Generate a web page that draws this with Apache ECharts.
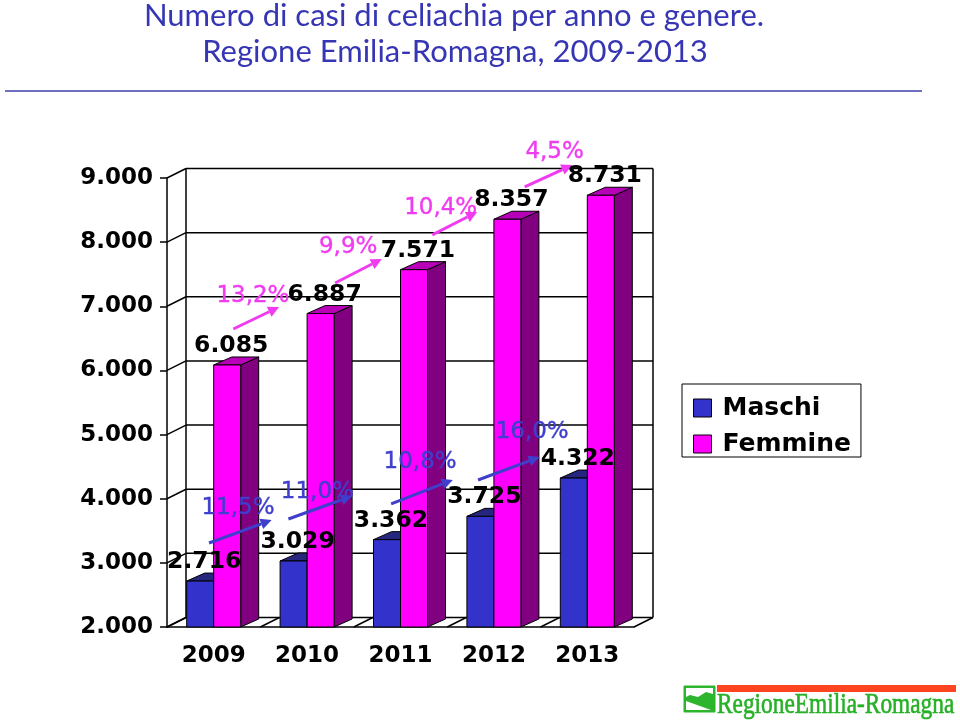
<!DOCTYPE html>
<html>
<head>
<meta charset="utf-8">
<script src="https://cdn.jsdelivr.net/npm/echarts@6/dist/echarts.min.js"></script>
<style>html,body{margin:0;padding:0;background:#fff}#chart{width:960px;height:724px}</style>
</head>
<body>
<div id="chart"></div>
<script>
var years = ['2009', '2010', '2011', '2012', '2013'];
var maschi = [2716, 3029, 3362, 3725, 4322];
var femmine = [6085, 6887, 7571, 8357, 8731];
var yTicks = [2000, 3000, 4000, 5000, 6000, 7000, 8000, 9000];
var yTickLabels = ['2.000', '3.000', '4.000', '5.000', '6.000', '7.000', '8.000', '9.000'];
var growthMaschi = ['11,5%', '11,0%', '10,8%', '16,0%'];
var growthFemmine = ['13,2%', '9,9%', '10,4%', '4,5%'];

// arrow placement in axis units: [tailPos, tailVal, headPos, headVal, labelPos, labelVal]
var arrowsFemmine = [
    [0.21, 6646, 0.70, 6989, 0.42, 7161],
    [1.30, 7363, 1.80, 7737, 1.44, 7924],
    [2.34, 8112, 2.82, 8470, 2.43, 8533],
    [3.33, 8860, 3.84, 9203, 3.65, 9406]
];
var arrowsMaschi = [
    [-0.05, 3310, 0.62, 3668, 0.26, 3855],
    [0.80, 3684, 1.48, 4042, 1.11, 4105],
    [1.90, 3918, 2.56, 4292, 2.21, 4572],
    [2.83, 4292, 3.49, 4650, 3.41, 5040]
];

var DX = 18, DY = -8;     // bar depth
var WX = 19, WY = -9.5;   // wall depth
var BAR_W = 27;
var FONT = '"DejaVu Sans", sans-serif';

function fmt(v) {
    var s = String(v);
    return s.slice(0, s.length - 3) + '.' + s.slice(-3);
}

function box(x0, x1, yTop, yBot, front, side, top) {
    var st = function (c) { return {fill: c, stroke: '#000', lineWidth: 1}; };
    return [
        {type: 'polygon', shape: {points: [[x1, yBot], [x1 + DX, yBot + DY], [x1 + DX, yTop + DY], [x1, yTop]]}, style: st(side)},
        {type: 'polygon', shape: {points: [[x0, yTop], [x1, yTop], [x1 + DX, yTop + DY], [x0 + DX, yTop + DY]]}, style: st(top)},
        {type: 'rect', shape: {x: x0, y: yTop, width: x1 - x0, height: yBot - yTop}, style: st(front)}
    ];
}

function barRenderer(offset, colors) {
    return function (params, api) {
        var i = api.value(0), v = api.value(1);
        var top = api.coord([i, v]);
        var base = api.coord([i, 2000]);
        var x0 = top[0] + offset, x1 = x0 + BAR_W;
        var children = box(x0, x1, top[1], base[1], colors[0], colors[1], colors[2]);
        children.push({
            type: 'text', z2: 50,
            style: {text: fmt(v), x: (x0 + x1) / 2 + 4, y: top[1] - 7, align: 'center', verticalAlign: 'bottom',
                font: 'bold 23.5px ' + FONT, fill: '#000'}
        });
        return {type: 'group', children: children};
    };
}

function wallRenderer(params, api) {
    var cs = params.coordSys;
    var left = cs.x, right = cs.x + cs.width, bottom = cs.y + cs.height;
    var st = {stroke: '#000', lineWidth: 1.5};
    var lines = [];
    yTicks.forEach(function (t) {
        var y = api.coord([0, t])[1];
        lines.push({type: 'line', shape: {x1: left, y1: y, x2: left + WX, y2: y + WY}, style: st});
        lines.push({type: 'line', shape: {x1: left + WX, y1: y + WY, x2: right + WX, y2: y + WY}, style: st});
    });
    for (var k = 0; k <= years.length; k++) {
        var x = left + k * cs.width / years.length;
        lines.push({type: 'line', shape: {x1: x, y1: bottom, x2: x + WX, y2: bottom + WY}, style: st});
    }
    var yTop = api.coord([0, yTicks[yTicks.length - 1]])[1];
    lines.push({type: 'line', shape: {x1: left + WX, y1: yTop + WY, x2: left + WX, y2: bottom + WY}, style: st});
    lines.push({type: 'line', shape: {x1: right + WX, y1: yTop + WY, x2: right + WX, y2: bottom + WY}, style: st});
    return {type: 'group', children: lines};
}

function arrowRenderer(arrows, labels, color) {
    return function (params, api) {
        var a = arrows[params.dataIndex];
        var c0 = api.coord([0, 2000]);
        var band = api.size([1, 0])[0];
        function pt(pos, val) { return [c0[0] + pos * band, api.coord([0, val])[1]]; }
        var p0 = pt(a[0], a[1]), p1 = pt(a[2], a[3]), pl = pt(a[4], a[5]);
        var ang = Math.atan2(p1[1] - p0[1], p1[0] - p0[0]);
        var L = 11, W = 5.5;
        var bx = p1[0] - L * Math.cos(ang), by = p1[1] - L * Math.sin(ang);
        var head = [[p1[0], p1[1]],
            [bx + W * Math.sin(ang), by - W * Math.cos(ang)],
            [bx - W * Math.sin(ang), by + W * Math.cos(ang)]];
        return {type: 'group', children: [
            {type: 'line', z2: 40, shape: {x1: p0[0], y1: p0[1], x2: bx, y2: by}, style: {stroke: color, lineWidth: 3}},
            {type: 'polygon', z2: 40, shape: {points: head}, style: {fill: color}},
            {type: 'text', z2: 40, style: {text: labels[params.dataIndex], x: pl[0], y: pl[1], align: 'center',
                verticalAlign: 'middle', font: '23px ' + FONT, fill: color, stroke: color, lineWidth: 0.4}}
        ]};
    };
}

var myChart = echarts.init(document.getElementById('chart'));
var option = {
    backgroundColor: '#fff',
    animation: false,
    grid: {left: 167, right: 326, top: 178, bottom: 97},
    legend: {
        data: ['Maschi', 'Femmine'],
        orient: 'vertical',
        left: 682, top: 384,
        padding: [11, 10, 0, 11],
        itemGap: 10,
        itemWidth: 18, itemHeight: 18,
        icon: 'rect',
        borderColor: '#000', borderWidth: 1,
        itemStyle: {borderColor: '#000', borderWidth: 1},
        textStyle: {fontFamily: FONT, fontWeight: 'bold', fontSize: 25, color: '#000', lineHeight: 26, padding: [0, 0, 0, 6]}
    },
    xAxis: {
        type: 'category',
        data: years,
        axisLine: {lineStyle: {color: '#000', width: 1.5}},
        axisTick: {length: 9, lineStyle: {color: '#000', width: 1.5}},
        axisLabel: {fontFamily: FONT, fontWeight: 'bold', fontSize: 23, color: '#000', margin: 18},
        splitLine: {show: false}
    },
    yAxis: {
        type: 'value',
        min: 2000, max: 9000, interval: 1000,
        axisLine: {show: true, lineStyle: {color: '#000', width: 1.5}},
        axisTick: {show: true, length: 7, lineStyle: {color: '#000', width: 1.5}},
        axisLabel: {
            fontFamily: FONT, fontWeight: 'bold', fontSize: 23, color: '#000', margin: 14,
            formatter: function (v) { return yTickLabels[yTicks.indexOf(v)]; }
        },
        splitLine: {show: false}
    },
    graphic: [
        {type: 'text', style: {text: 'Numero di casi di celiachia per anno e genere.', x: 454, y: 16,
            align: 'center', verticalAlign: 'middle', font: '31px Lato', fill: '#3636b4'}},
        {type: 'text', style: {text: 'Regione Emilia-Romagna, 2009-2013', x: 455, y: 52,
            align: 'center', verticalAlign: 'middle', font: '31px Lato', fill: '#3636b4'}},
        {type: 'line', shape: {x1: 5, y1: 91, x2: 922, y2: 91}, style: {stroke: '#3f3fae', lineWidth: 1.5}},
        // logo
        {type: 'rect', shape: {x: 684, y: 686, width: 31, height: 26}, style: {fill: '#2db52d', stroke: '#2db52d', lineWidth: 1}},
        {type: 'polygon', shape: {points: [[686, 688], [713, 688], [713, 694], [706, 692], [698, 697], [690, 695], [686, 697]]}, style: {fill: '#fff'}},
        {type: 'polygon', shape: {points: [[686, 701], [686, 710], [711, 710]]}, style: {fill: '#fff'}},
        {type: 'rect', shape: {x: 717, y: 685, width: 239, height: 7}, style: {fill: '#ff4422'}},
        {type: 'text', x: 717, y: 705, scaleX: 0.805,
            style: {text: 'RegioneEmilia-Romagna', x: 0, y: 0, align: 'left', verticalAlign: 'middle',
                font: '29px "Liberation Serif"', fill: '#26b026', stroke: '#26b026', lineWidth: 0.6}}
    ],
    series: [
        {
            type: 'custom', silent: true, z: 1,
            renderItem: wallRenderer,
            data: [[0, 2000]]
        },
        {
            name: 'Maschi', type: 'custom',
            itemStyle: {color: '#3333cc'},
            renderItem: barRenderer(-BAR_W, ['#3333cc', '#1f1f80', '#26267e']),
            data: maschi.map(function (v, i) { return [i, v]; })
        },
        {
            name: 'Femmine', type: 'custom',
            itemStyle: {color: '#ff00ff'},
            renderItem: barRenderer(0, ['#ff00ff', '#800080', '#b800b8']),
            data: femmine.map(function (v, i) { return [i, v]; })
        },
        {
            type: 'custom', silent: true,
            renderItem: arrowRenderer(arrowsFemmine, growthFemmine, '#f03cf0'),
            data: growthFemmine.map(function (g, i) { return [i, 2000]; })
        },
        {
            type: 'custom', silent: true,
            renderItem: arrowRenderer(arrowsMaschi, growthMaschi, '#3f3fcc'),
            data: growthMaschi.map(function (g, i) { return [i, 2000]; })
        }
    ]
};
myChart.setOption(option);
</script>
</body>
</html>
